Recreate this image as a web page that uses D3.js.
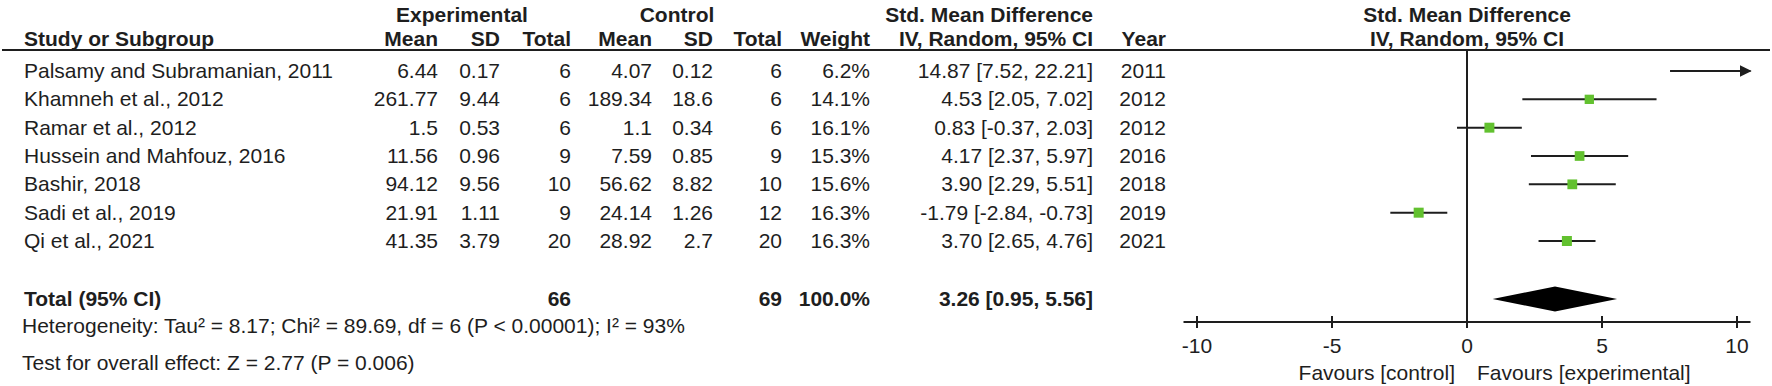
<!DOCTYPE html>
<html lang="en">
<head>
<meta charset="utf-8">
<title>Forest plot</title>
<script src="https://d3js.org/d3.v7.min.js"></script>
<style>
  body { margin: 0; background: #fff; }
  svg text { font-family: "Liberation Sans", Arial, sans-serif; font-size: 21px; fill: #1e1e1e; }
  .bold { font-weight: bold; }
</style>
</head>
<body>
<div id="chart"></div>
<script>
  // study data
  var studies = ["Palsamy and Subramanian, 2011", "Khamneh et al., 2012", "Ramar et al., 2012",
    "Hussein and Mahfouz, 2016", "Bashir, 2018", "Sadi et al., 2019", "Qi et al., 2021"];
  var expMean = [6.44, 261.77, 1.5, 11.56, 94.12, 21.91, 41.35];
  var expSD = [0.17, 9.44, 0.53, 0.96, 9.56, 1.11, 3.79];
  var expN = [6, 6, 6, 9, 10, 9, 20];
  var ctlMean = [4.07, 189.34, 1.1, 7.59, 56.62, 24.14, 28.92];
  var ctlSD = [0.12, 18.6, 0.34, 0.85, 8.82, 1.26, 2.7];
  var ctlN = [6, 6, 6, 9, 10, 12, 20];
  var weights = [6.2, 14.1, 16.1, 15.3, 15.6, 16.3, 16.3];
  var smd = [14.87, 4.53, 0.83, 4.17, 3.90, -1.79, 3.70];
  var ciLow = [7.52, 2.05, -0.37, 2.37, 2.29, -2.84, 2.65];
  var ciHigh = [22.21, 7.02, 2.03, 5.97, 5.51, -0.73, 4.76];
  var years = [2011, 2012, 2012, 2016, 2018, 2019, 2021];

  // pooled result
  var total = { expN: 66, ctlN: 69, weight: 100.0, est: 3.26, lo: 0.95, hi: 5.56 };
  var heterogeneity = "Heterogeneity: Tau² = 8.17; Chi² = 89.69, df = 6 (P < 0.00001); I² = 93%";
  var overall = "Test for overall effect: Z = 2.77 (P = 0.006)";
  var tickValues = [-10, -5, 0, 5, 10];

  var W = 1772, H = 386;
  var svg = d3.select("#chart").append("svg")
    .attr("width", W).attr("height", H);

  var x = d3.scaleLinear().domain([-10, 10]).range([1197, 1737]);
  var y = d3.scaleLinear().domain([0, studies.length - 1]).range([71, 241]);
  var totalY = 299, axisY = 322, headLineY = 50;
  var xMin = -10.5, xMax = 10.5;

  // column right edges
  var col = { expMean: 438, expSD: 500, expN: 571, ctlMean: 652, ctlSD: 713, ctlN: 782,
              weight: 870, ci: 1093, year: 1166 };

  function txt(tx, ty, s, anchor, bold) {
    return svg.append("text")
      .attr("x", tx).attr("y", ty)
      .attr("text-anchor", anchor || "start")
      .attr("class", bold ? "bold" : null)
      .text(s);
  }

  // header row 1
  txt(462, 22, "Experimental", "middle", true);
  txt(677, 22, "Control", "middle", true);
  txt(col.ci, 22, "Std. Mean Difference", "end", true);
  txt(x(0), 22, "Std. Mean Difference", "middle", true);
  // header row 2
  txt(24, 46, "Study or Subgroup", "start", true);
  txt(col.expMean, 46, "Mean", "end", true);
  txt(col.expSD, 46, "SD", "end", true);
  txt(col.expN, 46, "Total", "end", true);
  txt(col.ctlMean, 46, "Mean", "end", true);
  txt(col.ctlSD, 46, "SD", "end", true);
  txt(col.ctlN, 46, "Total", "end", true);
  txt(col.weight, 46, "Weight", "end", true);
  txt(col.ci, 46, "IV, Random, 95% CI", "end", true);
  txt(col.year, 46, "Year", "end", true);
  txt(x(0), 46, "IV, Random, 95% CI", "middle", true);

  svg.append("line")
    .attr("x1", 2).attr("x2", 1770)
    .attr("y1", headLineY).attr("y2", headLineY)
    .attr("stroke", "#1e1e1e").attr("stroke-width", 2);

  // table rows
  studies.forEach(function (s, i) {
    var by = y(i) + 7;
    txt(24, by, s);
    txt(col.expMean, by, String(expMean[i]), "end");
    txt(col.expSD, by, String(expSD[i]), "end");
    txt(col.expN, by, String(expN[i]), "end");
    txt(col.ctlMean, by, String(ctlMean[i]), "end");
    txt(col.ctlSD, by, String(ctlSD[i]), "end");
    txt(col.ctlN, by, String(ctlN[i]), "end");
    txt(col.weight, by, weights[i].toFixed(1) + "%", "end");
    txt(col.ci, by, smd[i].toFixed(2) + " [" + ciLow[i].toFixed(2) + ", " + ciHigh[i].toFixed(2) + "]", "end");
    txt(col.year, by, String(years[i]), "end");
  });

  // total row
  txt(24, totalY + 7, "Total (95% CI)", "start", true);
  txt(col.expN, totalY + 7, String(total.expN), "end", true);
  txt(col.ctlN, totalY + 7, String(total.ctlN), "end", true);
  txt(col.weight, totalY + 7, total.weight.toFixed(1) + "%", "end", true);
  txt(col.ci, totalY + 7, total.est.toFixed(2) + " [" + total.lo.toFixed(2) + ", " + total.hi.toFixed(2) + "]", "end", true);
  txt(22, 333, heterogeneity);
  txt(22, 370, overall);

  // arrow marker for CIs leaving the scale
  svg.append("defs").append("marker")
    .attr("id", "arrow").attr("viewBox", "0 0 10 10")
    .attr("refX", 9).attr("refY", 5)
    .attr("markerWidth", 6).attr("markerHeight", 6)
    .attr("markerUnits", "strokeWidth")
    .attr("orient", "auto")
    .append("path").attr("d", "M0,0L10,5L0,10z").attr("fill", "#1e1e1e");

  // zero line
  svg.append("line")
    .attr("x1", x(0)).attr("x2", x(0))
    .attr("y1", headLineY).attr("y2", axisY)
    .attr("stroke", "#1e1e1e").attr("stroke-width", 2);

  // CI lines and squares
  var plot = svg.append("g");
  studies.forEach(function (s, i) {
    var lo = Math.max(ciLow[i], xMin), hi = Math.min(ciHigh[i], xMax);
    var line = plot.append("line")
      .attr("x1", x(lo)).attr("x2", x(hi))
      .attr("y1", y(i)).attr("y2", y(i))
      .attr("stroke", "#1e1e1e").attr("stroke-width", 2);
    if (ciHigh[i] > xMax) line.attr("marker-end", "url(#arrow)");
    if (smd[i] >= xMin && smd[i] <= xMax) {
      var sz = Math.sqrt(weights[i] / 16.3) * 10;
      plot.append("rect")
        .attr("x", x(smd[i]) - sz / 2).attr("y", y(i) - sz / 2)
        .attr("width", sz).attr("height", sz)
        .attr("fill", "#62c12f");
    }
  });

  // pooled diamond
  plot.append("path")
    .attr("d", "M" + x(total.lo) + "," + totalY +
               "L" + x(total.est) + "," + (totalY - 12.5) +
               "L" + x(total.hi) + "," + totalY +
               "L" + x(total.est) + "," + (totalY + 12.5) + "Z")
    .attr("fill", "#000");

  // x axis
  var axis = svg.append("g").attr("transform", "translate(0," + axisY + ")");
  axis.append("line")
    .attr("x1", x(xMin)).attr("x2", x(xMax))
    .attr("stroke", "#1e1e1e").attr("stroke-width", 2);
  var ticks = axis.selectAll(".tick").data(tickValues).enter().append("g")
    .attr("transform", function (d) { return "translate(" + x(d) + ",0)"; });
  ticks.append("line").attr("y1", -6).attr("y2", 6)
    .attr("stroke", "#1e1e1e").attr("stroke-width", 2);
  ticks.append("text").attr("y", 31).attr("text-anchor", "middle")
    .text(function (d) { return d; });

  txt(x(0) - 12, 380, "Favours [control]", "end");
  txt(x(0) + 10, 380, "Favours [experimental]", "start");
</script>
</body>
</html>
